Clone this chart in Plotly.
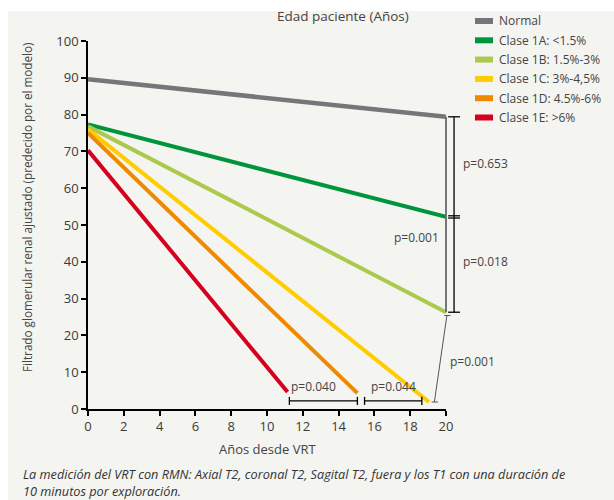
import plotly.graph_objects as go

# ---------------- data ----------------
series_names = ["Normal", "Clase 1A: <1.5%", "Clase 1B: 1.5%-3%",
                "Clase 1C: 3%-4,5%", "Clase 1D: 4.5%-6%", "Clase 1E: >6%"]
start_years = [0, 0, 0, 0, 0, 0]
start_vals = [89.6, 77.3, 76.8, 76.0, 75.0, 70.3]
end_years = [20, 20, 20, 19.05, 15.05, 11.15]
end_vals = [79.4, 52.2, 26.3, 1.9, 4.3, 4.6]
series_colors = ["#76767a", "#00943c", "#abc94c", "#ffcc00", "#ef8a00", "#d4001e"]

x_ticks = [0, 2, 4, 6, 8, 10, 12, 14, 16, 18, 20]
y_ticks = [0, 10, 20, 30, 40, 50, 60, 70, 80, 90, 100]

p_labels = ["p=0.653", "p=0.018", "p=0.001", "p=0.001", "p=0.040", "p=0.044"]

x_title = "Años desde VRT"
y_title = "Filtrado glomerular renal ajustado (predecido por el modelo)"
top_title = "Edad paciente (Años)"
caption_lines = ["La medición del VRT con RMN: Axial T2, coronal T2, Sagital T2, fuera y los T1 con una duración de",
                 "10 minutos por exploración."]

# ---------------- layout geometry ----------------
W, H = 614, 500
ML, MR, MT, MB = 88, 168, 41, 91
XMAX, YMAX = 20, 100
PW, PH = W - ML - MR, H - MT - MB

FONT = "Open Sans"
TXT = "#444444"


def dx(v):  # data x -> x domain
    return v / XMAX


def dy(v):  # data y -> y domain
    return v / YMAX


def px(p):  # pixel x -> x domain
    return (p - ML) / PW


def py(p):  # pixel y -> y domain
    return (H - MB - p) / PH


fig = go.Figure()

for i, name in enumerate(series_names):
    fig.add_trace(go.Scatter(
        x=[start_years[i], end_years[i]],
        y=[start_vals[i], end_vals[i]],
        mode="lines", name=name,
        line=dict(color=series_colors[i], width=4.5 if i == 0 else 4),
        showlegend=False, hoverinfo="skip",
    ))

shapes = []
annotations = []

# background panel
shapes.append(dict(type="rect", xref="paper", yref="paper",
                   x0=px(8), x1=px(W + 5), y0=py(H + 5), y1=py(11),
                   fillcolor="#f4f4f0", line=dict(width=0), layer="below"))


def seg(x0, y0, x1, y1, color="black", width=1.3):
    shapes.append(dict(type="line", xref="x domain", yref="y domain",
                       x0=dx(x0), y0=dy(y0), x1=dx(x1), y1=dy(y1),
                       line=dict(color=color, width=width)))


# grey connector at x=20 between Normal and 1B
seg(XMAX, end_vals[0], XMAX, end_vals[2], color="#6a6a6a", width=1.8)
# black bracket with caps
bx = 20.45
seg(bx, end_vals[0], bx, end_vals[2])
for yv in [end_vals[0], end_vals[1] + 0.3, end_vals[1] - 0.3, end_vals[2]]:
    seg(bx - 0.33, yv, bx + 0.33, yv)
# thin grey connector 1B -> 1C
seg(20.05, 25.4, 19.35, 1.9, color="#555555", width=1)
seg(19.9, 25.4, 20.25, 25.4, color="#555555", width=1)
seg(19.2, 1.9, 19.55, 1.9, color="#555555", width=1)
# bottom brackets
for (a, b) in [(11.25, 15.05), (15.45, 18.65)]:
    seg(a, 2.2, b, 2.2)
    seg(a, 1.1, a, 3.3)
    seg(b, 1.1, b, 3.3)

# p-value labels
p_pos = [(20.84, 66.6, "left"), (20.84, 40.2, "left"), (16.98, 46.7, "left"),
         (20.1, 12.8, "left"), (12.6, 6.0, "center"), (17.05, 6.0, "center")]
for lab, (xv, yv, anc) in zip(p_labels, p_pos):
    annotations.append(dict(text=lab, xref="x domain", yref="y domain",
                            x=dx(xv), y=dy(yv), xanchor=anc, yanchor="middle",
                            showarrow=False, font=dict(family=FONT, size=12, color=TXT)))

# manual legend
for i, name in enumerate(series_names):
    yc = 21 + i * 19.3
    shapes.append(dict(type="rect", xref="paper", yref="paper",
                       x0=px(475), x1=px(493), y0=py(yc + 3), y1=py(yc - 3),
                       fillcolor=series_colors[i], line=dict(width=0)))
    annotations.append(dict(text=name, xref="paper", yref="paper",
                            x=px(497), y=py(yc), xanchor="left", yanchor="middle",
                            showarrow=False, font=dict(family=FONT, size=12, color=TXT)))

# titles
annotations.append(dict(text=top_title, xref="paper", yref="paper", x=px(343), y=py(16),
                        xanchor="center", yanchor="middle", showarrow=False,
                        font=dict(family=FONT, size=13.5, color=TXT)))
annotations.append(dict(text=x_title, xref="paper", yref="paper", x=px(267), y=py(449),
                        xanchor="center", yanchor="middle", showarrow=False,
                        font=dict(family=FONT, size=13, color=TXT)))
annotations.append(dict(text=y_title, xref="paper", yref="paper", x=px(27), y=py(207),
                        xanchor="center", yanchor="middle", textangle=-90, showarrow=False,
                        font=dict(family=FONT, size=11.7, color=TXT)))
annotations.append(dict(text="<br>".join("<i>" + ln + "</i>" for ln in caption_lines),
                        xref="paper", yref="paper", x=px(21), y=py(482),
                        xanchor="left", yanchor="middle", align="left", showarrow=False,
                        font=dict(family=FONT, size=12.7, color="#333333")))

axis_common = dict(showline=True, linecolor="black", linewidth=1.6,
                   ticks="outside", ticklen=5, tickwidth=1.5, tickcolor="black",
                   showgrid=False, zeroline=False,
                   tickfont=dict(family=FONT, size=13, color="#3a3a3a"))

fig.update_layout(
    width=W, height=H,
    margin=dict(l=ML, r=MR, t=MT, b=MB),
    paper_bgcolor="white", plot_bgcolor="rgba(0,0,0,0)",
    xaxis=dict(range=[0, XMAX], tickvals=x_ticks, **axis_common),
    yaxis=dict(range=[0, YMAX], tickvals=y_ticks, **axis_common),
    shapes=shapes, annotations=annotations,
    showlegend=False,
)

fig.write_html("out.html", config={"displayModeBar": False},
               post_script="document.body.style.margin='0';document.body.style.overflow='hidden';")
